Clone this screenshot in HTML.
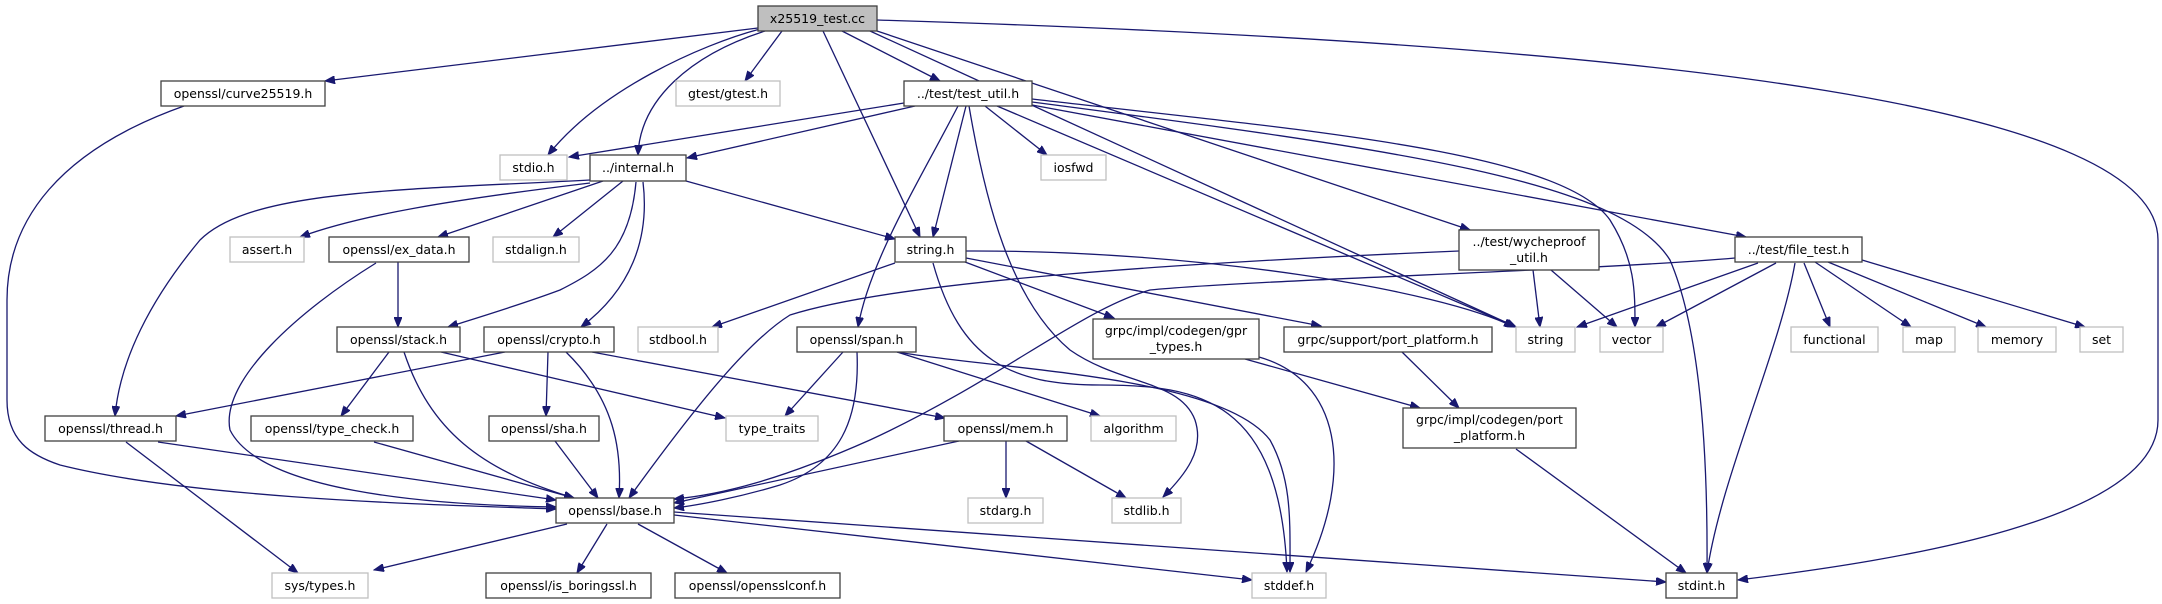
<!DOCTYPE html>
<html><head><meta charset="utf-8"><style>
html,body{margin:0;padding:0;background:#fff}
svg{display:block}
text{font-family:"DejaVu Sans","Liberation Sans",sans-serif;font-size:12.5px;fill:#000}
.e{fill:none;stroke:#191970;stroke-width:1.3;marker-end:url(#ar)}
.n{fill:#fff;stroke:#404040;stroke-width:1.3}
.g{fill:#fff;stroke:#bfbfbf;stroke-width:1.3}
.r{fill:#bfbfbf;stroke:#404040;stroke-width:1.3}
</style></head><body>
<svg width="2162" height="604" viewBox="0 0 2162 604" xmlns="http://www.w3.org/2000/svg">
<defs><marker id="ar" markerUnits="userSpaceOnUse" markerWidth="11" markerHeight="8" refX="10" refY="4" orient="auto"><path d="M0,0 L10,4 L0,8 z" fill="#191970" stroke="#191970"/></marker></defs>
<!-- edges -->
<path class="e" d="M758,28 L325,81"/>
<path class="e" d="M760,29 C700,45 600,90 548,155"/>
<path class="e" d="M765,31 C690,55 640,100 638,155"/>
<path class="e" d="M782,31 L745,81"/>
<path class="e" d="M823,31 L920,237"/>
<path class="e" d="M842,31 L940,81"/>
<path class="e" d="M877,31 L1470,230"/>
<path class="e" d="M870,31 L1516,327"/>
<path class="e" d="M877,20 C1700,45 2158,110 2158,240 L2158,420 C2158,520 1900,560 1738,580"/>
<path class="e" d="M904,103 L569,157"/>
<path class="e" d="M915,106 L687,158"/>
<path class="e" d="M966,106 L933,237"/>
<path class="e" d="M958,106 C920,180 870,260 858,327"/>
<path class="e" d="M985,106 L1047,155"/>
<path class="e" d="M997,106 L1516,327"/>
<path class="e" d="M969,106 C985,200 1010,300 1070,350 C1120,385 1180,380 1195,420 C1205,450 1185,475 1163,497"/>
<path class="e" d="M1032,99 C1300,130 1560,150 1610,220 C1635,260 1635,290 1635,327"/>
<path class="e" d="M1032,102 C1400,150 1620,180 1670,260 C1700,330 1708,450 1707,573"/>
<path class="e" d="M1032,105 L1746,237"/>
<path class="e" d="M590,180 C400,190 250,190 200,240 C150,300 120,360 115,416"/>
<path class="e" d="M590,183 C450,200 360,215 300,237"/>
<path class="e" d="M603,181 L438,237"/>
<path class="e" d="M623,181 L553,237"/>
<path class="e" d="M636,182 C630,250 600,270 560,290 C520,305 470,320 448,327"/>
<path class="e" d="M643,182 C650,240 630,290 581,327"/>
<path class="e" d="M686,181 L895,239"/>
<path class="e" d="M184,106 C60,150 7,220 7,300 L7,400 C7,440 30,455 60,465 C200,500 450,505 556,509"/>
<path class="e" d="M398,262 L398,327"/>
<path class="e" d="M376,263 C300,310 220,380 230,430 C260,490 420,505 556,507"/>
<path class="e" d="M389,352 L341,416"/>
<path class="e" d="M404,352 C430,430 480,470 574,498"/>
<path class="e" d="M441,352 L725,418"/>
<path class="e" d="M505,352 L176,416"/>
<path class="e" d="M548,352 L546,416"/>
<path class="e" d="M566,352 C615,400 622,450 619,498"/>
<path class="e" d="M592,352 L945,418"/>
<path class="e" d="M895,263 L712,327"/>
<path class="e" d="M933,263 C960,360 1010,385 1100,385 C1200,385 1280,400 1287,572"/>
<path class="e" d="M965,262 L1114,318"/>
<path class="e" d="M966,258 L1321,326"/>
<path class="e" d="M966,251 C1200,250 1440,290 1514,327"/>
<path class="e" d="M843,352 L785,416"/>
<path class="e" d="M857,352 C860,420 840,465 780,485 C740,497 700,505 674,508"/>
<path class="e" d="M897,352 L1100,416"/>
<path class="e" d="M897,352 C1000,370 1220,375 1270,440 C1292,480 1290,520 1290,572"/>
<path class="e" d="M959,441 L674,503"/>
<path class="e" d="M1006,441 L1006,498"/>
<path class="e" d="M1026,441 L1126,498"/>
<path class="e" d="M1259,357 C1340,380 1355,470 1306,572"/>
<path class="e" d="M1245,359 L1420,408"/>
<path class="e" d="M1402,352 L1459,408"/>
<path class="e" d="M1516,449 L1686,573"/>
<path class="e" d="M567,524 L374,570"/>
<path class="e" d="M607,524 L577,573"/>
<path class="e" d="M638,524 L727,573"/>
<path class="e" d="M674,515 L1252,580"/>
<path class="e" d="M674,512 L1666,582"/>
<path class="e" d="M158,442 L556,500"/>
<path class="e" d="M126,442 L298,573"/>
<path class="e" d="M374,442 L574,498"/>
<path class="e" d="M555,441 L598,498"/>
<path class="e" d="M1735,258 C1600,270 1250,280 1150,290 C1080,310 1000,380 870,440 C780,480 720,495 674,499"/>
<path class="e" d="M1459,251 C1200,262 900,280 790,315 C750,340 700,400 629,498"/>
<path class="e" d="M1758,263 L1577,327"/>
<path class="e" d="M1776,263 L1656,327"/>
<path class="e" d="M1795,263 C1780,350 1720,480 1707,573"/>
<path class="e" d="M1804,263 L1830,327"/>
<path class="e" d="M1815,262 L1911,327"/>
<path class="e" d="M1828,262 L1986,327"/>
<path class="e" d="M1862,260 L2085,327"/>
<path class="e" d="M1533,270 L1540,327"/>
<path class="e" d="M1551,270 L1617,327"/>
<!-- nodes -->
<rect class="r" x="758" y="6" width="119" height="25"/><text x="817.5" y="23" text-anchor="middle">x25519_test.cc</text>
<rect class="n" x="161" y="81" width="164" height="25"/><text x="243" y="98" text-anchor="middle">openssl/curve25519.h</text>
<rect class="g" x="676" y="81" width="104" height="25"/><text x="728" y="98" text-anchor="middle">gtest/gtest.h</text>
<rect class="n" x="904" y="81" width="128" height="25"/><text x="968" y="98" text-anchor="middle">../test/test_util.h</text>
<rect class="g" x="500" y="155" width="67" height="25"/><text x="533.5" y="172" text-anchor="middle">stdio.h</text>
<rect class="n" x="590" y="155" width="96" height="26"/><text x="638" y="172" text-anchor="middle">../internal.h</text>
<rect class="g" x="1041" y="155" width="65" height="25"/><text x="1073.5" y="172" text-anchor="middle">iosfwd</text>
<rect class="n" x="1459" y="230" width="140" height="40"/><text x="1529" y="246" text-anchor="middle">../test/wycheproof</text><text x="1529" y="262" text-anchor="middle">_util.h</text>
<rect class="g" x="230" y="237" width="74" height="25"/><text x="267" y="254" text-anchor="middle">assert.h</text>
<rect class="n" x="329" y="237" width="140" height="25"/><text x="399" y="254" text-anchor="middle">openssl/ex_data.h</text>
<rect class="g" x="493" y="237" width="86" height="25"/><text x="536" y="254" text-anchor="middle">stdalign.h</text>
<rect class="n" x="895" y="237" width="71" height="25"/><text x="930.5" y="254" text-anchor="middle">string.h</text>
<rect class="n" x="1735" y="237" width="127" height="25"/><text x="1798.5" y="254" text-anchor="middle">../test/file_test.h</text>
<rect class="n" x="1093" y="319" width="166" height="40"/><text x="1176" y="335" text-anchor="middle">grpc/impl/codegen/gpr</text><text x="1176" y="351" text-anchor="middle">_types.h</text>
<rect class="n" x="337" y="327" width="123" height="25"/><text x="398.5" y="344" text-anchor="middle">openssl/stack.h</text>
<rect class="n" x="484" y="327" width="130" height="25"/><text x="549" y="344" text-anchor="middle">openssl/crypto.h</text>
<rect class="g" x="638" y="327" width="80" height="25"/><text x="678" y="344" text-anchor="middle">stdbool.h</text>
<rect class="n" x="797" y="327" width="119" height="25"/><text x="856.5" y="344" text-anchor="middle">openssl/span.h</text>
<rect class="n" x="1284" y="327" width="208" height="25"/><text x="1388" y="344" text-anchor="middle">grpc/support/port_platform.h</text>
<rect class="g" x="1516" y="327" width="59" height="25"/><text x="1545.5" y="344" text-anchor="middle">string</text>
<rect class="g" x="1600" y="327" width="63" height="25"/><text x="1631.5" y="344" text-anchor="middle">vector</text>
<rect class="g" x="1791" y="327" width="87" height="25"/><text x="1834.5" y="344" text-anchor="middle">functional</text>
<rect class="g" x="1903" y="327" width="52" height="25"/><text x="1929" y="344" text-anchor="middle">map</text>
<rect class="g" x="1978" y="327" width="78" height="25"/><text x="2017" y="344" text-anchor="middle">memory</text>
<rect class="g" x="2080" y="327" width="43" height="25"/><text x="2101.5" y="344" text-anchor="middle">set</text>
<rect class="n" x="1403" y="408" width="173" height="40"/><text x="1489.5" y="424" text-anchor="middle">grpc/impl/codegen/port</text><text x="1489.5" y="440" text-anchor="middle">_platform.h</text>
<rect class="n" x="45" y="416" width="131" height="25"/><text x="110.5" y="433" text-anchor="middle">openssl/thread.h</text>
<rect class="n" x="251" y="416" width="162" height="25"/><text x="332" y="433" text-anchor="middle">openssl/type_check.h</text>
<rect class="n" x="489" y="416" width="110" height="25"/><text x="544" y="433" text-anchor="middle">openssl/sha.h</text>
<rect class="g" x="726" y="416" width="92" height="25"/><text x="772" y="433" text-anchor="middle">type_traits</text>
<rect class="n" x="944" y="416" width="123" height="25"/><text x="1005.5" y="433" text-anchor="middle">openssl/mem.h</text>
<rect class="g" x="1091" y="416" width="85" height="25"/><text x="1133.5" y="433" text-anchor="middle">algorithm</text>
<rect class="n" x="556" y="498" width="118" height="25"/><text x="615" y="515" text-anchor="middle">openssl/base.h</text>
<rect class="g" x="968" y="498" width="75" height="25"/><text x="1005.5" y="515" text-anchor="middle">stdarg.h</text>
<rect class="g" x="1112" y="498" width="69" height="25"/><text x="1146.5" y="515" text-anchor="middle">stdlib.h</text>
<rect class="g" x="272" y="573" width="96" height="25"/><text x="320" y="590" text-anchor="middle">sys/types.h</text>
<rect class="n" x="486" y="573" width="165" height="25"/><text x="568.5" y="590" text-anchor="middle">openssl/is_boringssl.h</text>
<rect class="n" x="675" y="573" width="165" height="25"/><text x="757.5" y="590" text-anchor="middle">openssl/opensslconf.h</text>
<rect class="g" x="1252" y="573" width="74" height="25"/><text x="1289" y="590" text-anchor="middle">stddef.h</text>
<rect class="n" x="1666" y="573" width="71" height="25"/><text x="1701.5" y="590" text-anchor="middle">stdint.h</text>
</svg>
</body></html>
